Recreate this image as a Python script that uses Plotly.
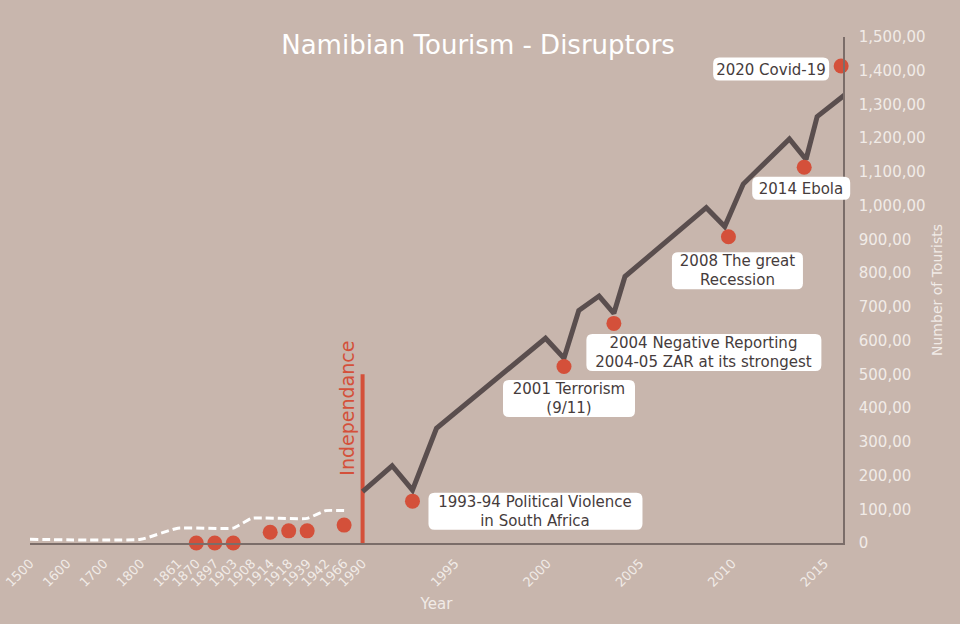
import plotly.graph_objects as go

# ---- x axis: uneven "slots" (early centuries squeezed, then one slot per year)
early_years = [1500, 1600, 1700, 1800]            # two slots each
mid_years = [1861, 1870, 1897, 1903, 1908, 1914, 1918, 1939, 1942, 1966, 1990]
late_ticks = [1995, 2000, 2005, 2010, 2015]


def slot(year):
    if year in early_years:
        return 2 * early_years.index(year)
    if year in mid_years:
        return 2 * len(early_years) + mid_years.index(year)
    return 2 * len(early_years) + len(mid_years) - 1 + (year - 1990)


# ---- data
# tourist arrivals (thousands) after independence
line_years = [1990, 1991.6, 1992.7, 1994, 1999.9, 2000.9, 2001.7, 2002.8, 2003.6,
              2004.2, 2008.6, 2009.6, 2010.6, 2013.1, 2014, 2014.6, 2016.2]
line_vals = [152, 229, 157, 340, 607, 548, 689, 732, 681,
             790, 994, 938, 1064, 1198, 1137, 1264, 1333]

# dashed pre-independence trend
dash_years = [1500, 1800, 1861, 1903, 1908, 1939, 1942, 1966]
dash_vals = [11, 11, 44, 44, 73, 73, 96, 96]

# early disruptors (unlabelled dots)
early_dot_years = [1870, 1897, 1903, 1914, 1918, 1939, 1966]
early_dot_vals = [0, 0, 0, 32, 36, 36, 53]

# labelled disruptors
event_years = [1992.7, 2000.9, 2003.6, 2009.8, 2013.9, 2015.9]
event_vals = [124, 523, 651, 908, 1114, 1414]
event_labels = ["1993-94 Political Violence<br>in South Africa",
                "2001 Terrorism<br>(9/11)",
                "2004 Negative Reporting<br>2004-05 ZAR at its strongest",
                "2008 The great<br>Recession",
                "2014 Ebola",
                "2020 Covid-19"]

independence_year = 1990
independence_height = 500

y_max = 1500
y_ticks = list(range(0, y_max + 1, 100))

# ---- styles
BG = "#c8b6ad"
RED = "#d4503a"
DARK = "#5a4e4e"
LIGHT = "#f1ebe7"
AXIS = "#7b6d69"
FONT = "DejaVu Sans"

x_max = slot(2016)

fig = go.Figure()

fig.add_trace(go.Scatter(
    x=[slot(y) for y in dash_years], y=dash_vals, mode="lines",
    line=dict(color="white", width=3, dash="8px,4px", shape="spline", smoothing=0.4),
    hoverinfo="skip"))

fig.add_trace(go.Scatter(
    x=[slot(independence_year)] * 2, y=[0, independence_height], mode="lines",
    line=dict(color=RED, width=4), hoverinfo="skip"))

fig.add_trace(go.Scatter(
    x=[slot(y) for y in line_years], y=line_vals, mode="lines",
    line=dict(color=DARK, width=5), cliponaxis=False))

fig.add_trace(go.Scatter(
    x=[slot(y) for y in early_dot_years] + [slot(y) for y in event_years],
    y=early_dot_vals + event_vals, mode="markers",
    marker=dict(color=RED, size=15), cliponaxis=False))


def rounded_box(cx, cy, w, h, r=6):
    # pixel path (y up) for a rounded rectangle centred on (cx, cy)
    x0, x1 = cx - w / 2, cx + w / 2
    y0, y1 = cy - h / 2, cy + h / 2
    return (f"M{x0 + r},{y0} L{x1 - r},{y0} Q{x1},{y0} {x1},{y0 + r} "
            f"L{x1},{y1 - r} Q{x1},{y1} {x1 - r},{y1} L{x0 + r},{y1} "
            f"Q{x0},{y1} {x0},{y1 - r} L{x0},{y0 + r} Q{x0},{y0} {x0 + r},{y0} Z")


# label boxes: (xshift, yshift, width, height) relative to each event dot
box_style = [(123, -10, 214, 37), (5, -32, 132, 37), (90, -29, 235, 37),
             (9, -34, 131, 37), (-3, -21, 98, 23), (-70, -3, 116, 23)]
for yr, v, txt, (dx, dy, w, h) in zip(event_years, event_vals, event_labels, box_style):
    # paper refs (axis ranges fill the plot area) so boxes are not clipped
    fig.add_shape(type="path", xref="paper", yref="paper",
                  xsizemode="pixel", ysizemode="pixel",
                  xanchor=slot(yr) / x_max, yanchor=v / y_max,
                  path=rounded_box(dx, dy, w, h),
                  fillcolor="white", line=dict(width=0), layer="above")
    fig.add_annotation(
        x=slot(yr), y=v, text=txt, showarrow=False, xshift=dx, yshift=dy,
        width=w, height=h, align="center", valign="middle", borderpad=0,
        font=dict(family=FONT, size=15, color="#463c3c"))

fig.add_annotation(
    x=slot(independence_year), y=independence_height * 0.80, text="Independance",
    textangle=-90, showarrow=False, xshift=-16,
    font=dict(family=FONT, size=19, color=RED))

tickvals = [slot(y) for y in early_years + mid_years + late_ticks]
ticktext = [str(y) for y in early_years + mid_years + late_ticks]

fig.update_layout(
    width=960, height=624,
    paper_bgcolor=BG, plot_bgcolor=BG,
    showlegend=False,
    margin=dict(l=30, r=117, t=37, b=81),
    font=dict(family=FONT, color=LIGHT),
    title=dict(text="Namibian Tourism - Disruptors", x=0.498, xref="container",
               xanchor="center", y=0.928, yanchor="middle",
               font=dict(family=FONT, size=26, color="white")),
    xaxis=dict(range=[0, x_max], tickvals=tickvals, ticktext=ticktext,
               tickangle=-45, showgrid=False, zeroline=False, automargin=False,
               showline=True, linecolor=AXIS, linewidth=1.5,
               ticks="outside", ticklen=6, tickcolor="rgba(0,0,0,0)",
               tickfont=dict(size=13, color=LIGHT),
               title=dict(text="Year", font=dict(size=15, color=LIGHT), standoff=10)),
    yaxis=dict(range=[0, y_max], side="right", tickvals=y_ticks,
               ticktext=["0" if t == 0 else f"{t:,},00" for t in y_ticks],
               showgrid=False, zeroline=False, automargin=False,
               showline=True, linecolor=AXIS, linewidth=1.5,
               ticks="outside", ticklen=11, tickcolor="rgba(0,0,0,0)",
               tickfont=dict(size=15, color=LIGHT),
               title=dict(text="Number of Tourists", font=dict(size=14, color=LIGHT),
                          standoff=8)),
)

fig.write_html("out.html", config={"displayModeBar": False},
               post_script="document.body.style.margin='0';")
